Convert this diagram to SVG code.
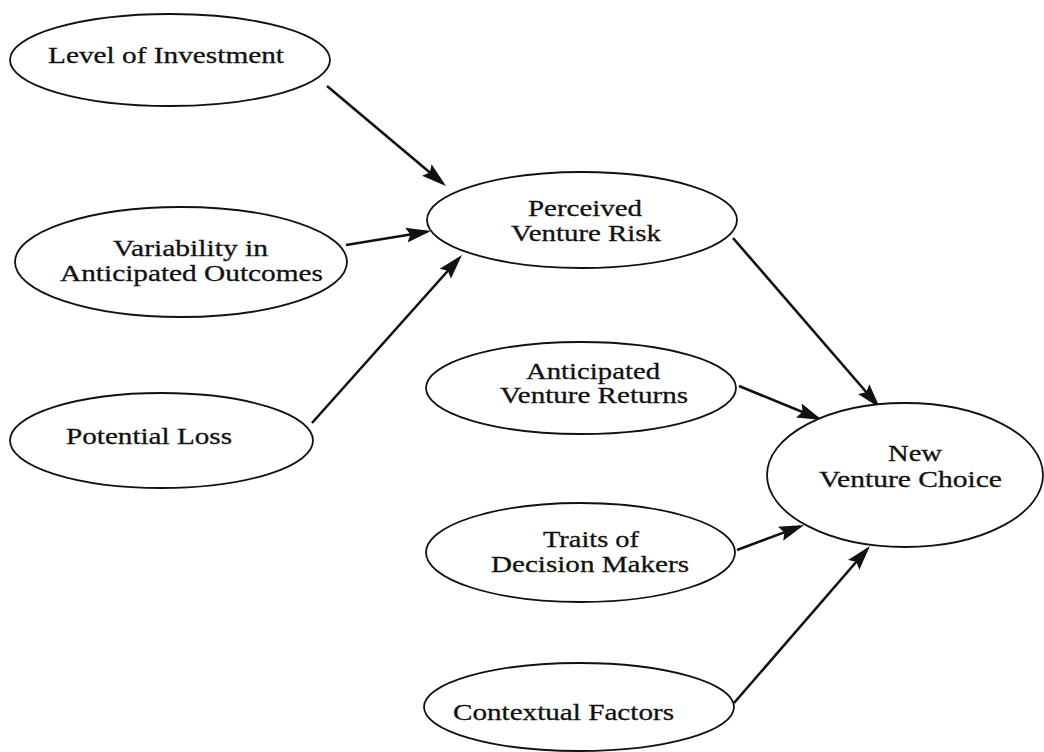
<svg xmlns="http://www.w3.org/2000/svg" width="1044" height="752" viewBox="0 0 1044 752">
  <style>
    .node ellipse { fill: #ffffff; stroke: #111111; stroke-width: 1.8; }
    .node text { font-family: "Liberation Serif", "Times New Roman", serif; font-size: 24px; fill: #111111; stroke: #111111; stroke-width: 0.3; }
    .conn line { stroke: #111111; stroke-width: 2.6; fill: none; marker-end: url(#arrow); }
  </style>
  <defs>
    <marker id="arrow" viewBox="0 0 25 17" refX="21" refY="8.5" markerWidth="25" markerHeight="17" markerUnits="userSpaceOnUse" orient="auto">
      <path d="M0,1 L25,8.5 L0,16 L4,8.5 Z" fill="#111111"/>
    </marker>
  </defs>
  <rect width="1044" height="752" fill="#ffffff"/>

  <g id="connectors" class="conn">
    <line x1="327" y1="86" x2="442.9" y2="183.4"/>
    <line x1="346" y1="245" x2="427.1" y2="231.7"/>
    <line x1="312" y1="423" x2="459.3" y2="258.0"/>
    <line x1="733" y1="238" x2="877.4" y2="405.0"/>
    <line x1="739" y1="386" x2="818.3" y2="418.5"/>
    <line x1="737" y1="550" x2="800.3" y2="526.4"/>
    <line x1="734" y1="703" x2="867.4" y2="549.0"/>
  </g>

  <g id="level-of-investment" class="node">
    <ellipse cx="170" cy="60" rx="160" ry="46"/>
    <text x="48" y="63" textLength="236" lengthAdjust="spacingAndGlyphs">Level of Investment</text>
  </g>

  <g id="variability" class="node">
    <ellipse cx="181" cy="262" rx="166" ry="55"/>
    <text x="113" y="256" textLength="155" lengthAdjust="spacingAndGlyphs">Variability in</text>
    <text x="60" y="281" textLength="263" lengthAdjust="spacingAndGlyphs">Anticipated Outcomes</text>
  </g>

  <g id="potential-loss" class="node">
    <ellipse cx="161.5" cy="440.5" rx="151.5" ry="47.5"/>
    <text x="66" y="444" textLength="166" lengthAdjust="spacingAndGlyphs">Potential Loss</text>
  </g>

  <g id="perceived-venture-risk" class="node">
    <ellipse cx="582" cy="220" rx="155" ry="48"/>
    <text x="528" y="216" textLength="114" lengthAdjust="spacingAndGlyphs">Perceived</text>
    <text x="511" y="241" textLength="150" lengthAdjust="spacingAndGlyphs">Venture Risk</text>
  </g>

  <g id="anticipated-venture-returns" class="node">
    <ellipse cx="581" cy="388" rx="155" ry="46"/>
    <text x="526" y="379" textLength="134" lengthAdjust="spacingAndGlyphs">Anticipated</text>
    <text x="500" y="403" textLength="188" lengthAdjust="spacingAndGlyphs">Venture Returns</text>
  </g>

  <g id="new-venture-choice" class="node">
    <ellipse cx="905" cy="475" rx="138" ry="72"/>
    <text x="888" y="461" textLength="54" lengthAdjust="spacingAndGlyphs">New</text>
    <text x="819" y="487" textLength="183" lengthAdjust="spacingAndGlyphs">Venture Choice</text>
  </g>

  <g id="traits-of-decision-makers" class="node">
    <ellipse cx="580.5" cy="552.5" rx="154.5" ry="49.5"/>
    <text x="543" y="547" textLength="96" lengthAdjust="spacingAndGlyphs">Traits of</text>
    <text x="491" y="572" textLength="198" lengthAdjust="spacingAndGlyphs">Decision Makers</text>
  </g>

  <g id="contextual-factors" class="node">
    <ellipse cx="579" cy="707" rx="155" ry="44"/>
    <text x="453" y="720" textLength="221" lengthAdjust="spacingAndGlyphs">Contextual Factors</text>
  </g>
</svg>
